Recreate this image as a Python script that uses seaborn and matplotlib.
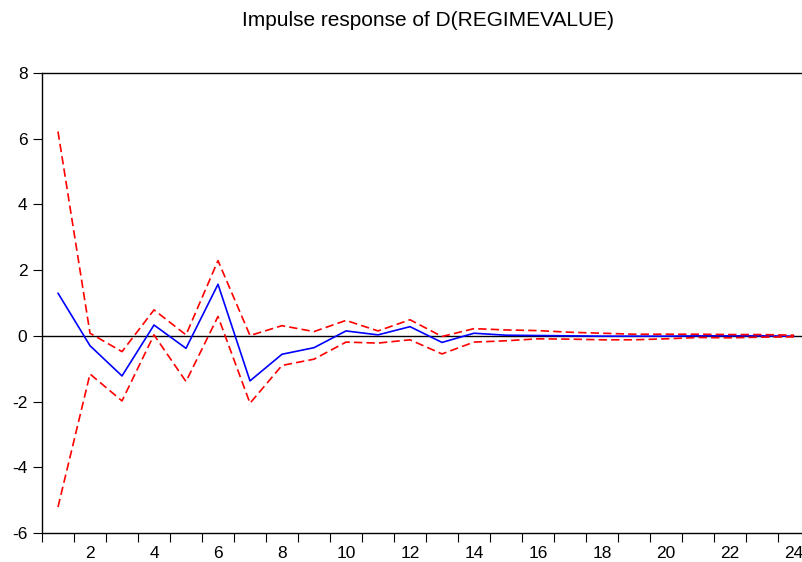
import matplotlib
matplotlib.use("Agg")
import matplotlib.pyplot as plt
from matplotlib.ticker import FixedLocator, NullFormatter
import seaborn as sns
import pandas as pd

periods = list(range(1, 25))
response = [1.30, -0.30, -1.22, 0.33, -0.38, 1.57, -1.37, -0.56, -0.36, 0.15,
            0.03, 0.28, -0.20, 0.08, 0.02, 0.01, 0.00, -0.01, -0.01, -0.01,
            0.00, 0.00, 0.00, -0.01]
upper = [6.22, 0.08, -0.48, 0.79, 0.03, 2.29, 0.01, 0.31, 0.13, 0.47,
         0.15, 0.49, -0.02, 0.22, 0.18, 0.16, 0.11, 0.08, 0.05, 0.05,
         0.05, 0.04, 0.04, 0.02]
lower = [-5.21, -1.16, -1.98, 0.03, -1.39, 0.59, -2.05, -0.90, -0.71, -0.19,
         -0.22, -0.12, -0.55, -0.19, -0.15, -0.09, -0.10, -0.12, -0.12, -0.09,
         -0.05, -0.06, -0.04, -0.03]

df = pd.DataFrame({"period": periods, "response": response,
                   "upper": upper, "lower": lower})

sns.set_style("white")
plt.rcParams["font.family"] = ["Liberation Sans", "DejaVu Sans"]
plt.rcParams["axes.unicode_minus"] = False
plt.rcParams["text.color"] = "black"
plt.rcParams["xtick.color"] = "black"
plt.rcParams["ytick.color"] = "black"

fig = plt.figure(figsize=(8.02, 5.62), dpi=100)
ax = fig.add_axes([42 / 802, 29 / 562, 768 / 802, 460 / 562])

ax.axhline(0, color="black", lw=1.0, zorder=1)
sns.lineplot(data=df, x="period", y="response", color="#0000FF", lw=1.2, ax=ax)
sns.lineplot(data=df, x="period", y="upper", color="#FF0000", lw=1.2,
             linestyle=(0, (5, 2.5)), ax=ax)
sns.lineplot(data=df, x="period", y="lower", color="#FF0000", lw=1.2,
             linestyle=(0, (5, 2.5)), ax=ax)

ax.set_xlim(0.5, 24.5)
ax.set_ylim(-6, 8)
ax.set_xlabel("")
ax.set_ylabel("")

# category style x axis: ticks on boundaries, labels at even centres
ax.xaxis.set_major_locator(FixedLocator(list(range(2, 25, 2))))
ax.xaxis.set_minor_locator(FixedLocator([p + 0.5 for p in range(0, 24)]))
ax.xaxis.set_minor_formatter(NullFormatter())
ax.tick_params(axis="x", which="major", length=0, pad=9.5, labelsize=12.5,
               labelcolor="black")
ax.tick_params(axis="x", which="minor", length=6.5, width=0.8, direction="out",
               bottom=True, color="black")
ax.set_yticks(range(-6, 9, 2))
ax.tick_params(axis="y", length=6.5, width=0.8, direction="out", pad=4,
               labelsize=12.5, left=True, color="black", labelcolor="black")

for s in ["left", "bottom", "top", "right"]:
    ax.spines[s].set_color("black")
    ax.spines[s].set_linewidth(1.0)

fig.text(428 / 802, 1 - 21 / 562, "Impulse response of D(REGIMEVALUE)",
         ha="center", va="center", fontsize=15, color="black")

fig.savefig("out.png", dpi=100)
